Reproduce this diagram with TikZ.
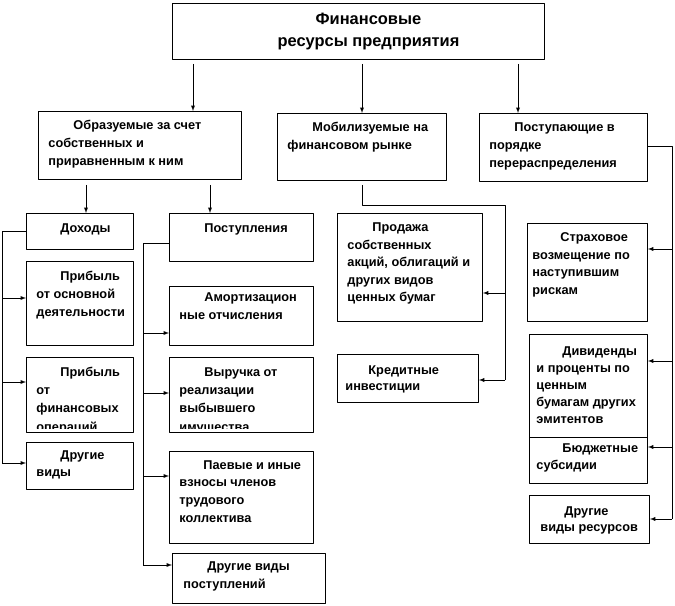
\documentclass[tikz,border=0pt]{standalone}
\usepackage{fontspec}
\setmainfont{Liberation Sans}
\newcommand{\boxtext}[4][10bp]{\parbox[c][#3][t]{#2}{\raggedright\leftskip=#1\relax\vspace*{6bp}#4}}
\tikzset{
  box/.style={draw,black,line width=0.9bp,inner sep=0pt,anchor=north west,font=\bfseries\fontsize{12.8}{18}\selectfont},
  link/.style={black,line width=0.9bp},
}
\begin{document}
\begin{tikzpicture}[>=latex,line join=bevel,]
%%
\fill [white] (0,0) rectangle (675bp,606bp);
\useasboundingbox (0,0) rectangle (675bp,606bp);
\node (node_0) at (172bp,603bp) [box,font=\bfseries\fontsize{16.5}{22}\selectfont] {\hspace*{20bp}\parbox[c][56bp][t]{352bp}{\centering\vspace*{5.6bp}\strut Финансовые\\ресурсы предприятия}};
%
\node (node_1) at (38bp,495bp) [box] {\boxtext{203bp}{68bp}{\strut\hspace*{25bp}Образуемые за счет\\собственных и\\приравненным к ним}};
  \node (node_2) at (277bp,493bp) [box] {\boxtext{169bp}{67bp}{\strut\hspace*{25bp}Мобилизуемые на\\финансовом рынке}};
  \node (node_3) at (479bp,493bp) [box] {\boxtext{168bp}{68bp}{\strut\hspace*{25bp}Поступающие в\\порядке\\перераспределения}};
%
\node (node_4) at (26bp,393bp) [box] {\boxtext{107bp}{36bp}{\vspace*{1bp}\strut\hspace*{24bp}Доходы}};
  \node (node_5) at (26bp,345bp) [box] {\boxtext{107bp}{84bp}{\vspace*{1bp}\strut\hspace*{24bp}Прибыль\\от основной\\деятельности}};
  \begin{scope}
  \clip (25bp,250bp) rectangle (134bp,177.5bp);
  \node (node_6) at (26bp,249bp) [box,draw=none] {\boxtext{107bp}{75bp}{\strut\hspace*{24bp}Прибыль\\[0.5bp]от\\[0.5bp]финансовых\\[0.5bp]операций}};
  \end{scope}
  \draw [link] (node_6.north west) rectangle (node_6.south east);
  \node (node_7) at (26bp,164bp) [box] {\boxtext{107bp}{47bp}{\vspace*{-2bp}\strut\hspace*{24bp}Другие\\виды}};
%
\node (node_8) at (169bp,393bp) [box] {\boxtext{144bp}{48bp}{\vspace*{1bp}\strut\hspace*{25bp}Поступления}};
  \node (node_9) at (169bp,320bp) [box] {\boxtext{144bp}{59bp}{\vspace*{-3bp}\strut\hspace*{25bp}Амортизацион\\ные отчисления}};
  \begin{scope}
  \clip (168bp,250bp) rectangle (314bp,177.5bp);
  \node (node_10) at (169bp,249bp) [box,draw=none] {\boxtext{144bp}{75bp}{\strut\hspace*{25bp}Выручка от\\[0.5bp]реализации\\[0.5bp]выбывшего\\[0.5bp]имущества}};
  \end{scope}
  \draw [link] (node_10.north west) rectangle (node_10.south east);
  \node (node_11) at (169bp,155bp) [box] {\boxtext{144bp}{92bp}{\vspace*{-1bp}\strut\hspace*{24bp}Паевые и иные\\взносы членов\\трудового\\коллектива}};
  \node (node_12) at (172bp,53bp) [box] {\boxtext[11bp]{153bp}{50bp}{\vspace*{-2bp}\strut\hspace*{24bp}Другие виды\\[1bp]поступлений}};
%
\node (node_13) at (337bp,393bp) [box] {\boxtext{145bp}{108bp}{\strut\hspace*{25bp}Продажа\\[-0.5bp]собственных\\[-0.5bp]акций, облигаций и\\[-0.5bp]других видов\\[-0.5bp]ценных бумаг}};
  \node (node_14) at (337bp,252bp) [box] {\boxtext[8bp]{141bp}{48bp}{\vspace*{1bp}\strut\hspace*{23bp}Кредитные\\[-1bp]инвестиции}};
%
\node (node_15) at (527bp,383bp) [box] {\boxtext[5bp]{120bp}{98bp}{\strut\hspace*{28bp}Страховое\\[-0.5bp]возмещение по\\[-0.5bp]наступившим\\[-0.5bp]рискам}};
  \node (node_16) at (529bp,272bp) [box] {\boxtext[7bp]{118bp}{103bp}{\vspace*{2bp}\strut\hspace*{26bp}Дивиденды\\[-0.7bp]и проценты по\\[-0.7bp]ценным\\[-0.7bp]бумагам других\\[-0.7bp]эмитентов}};
  \node (node_17) at (529bp,169bp) [box] {\boxtext[7bp]{118bp}{46bp}{\vspace*{-4bp}\strut\hspace*{26bp}Бюджетные\\субсидии}};
  \node (node_18) at (529bp,111bp) [box] {\boxtext[11bp]{120bp}{48bp}{\vspace*{1bp}\strut\hspace*{24bp}Другие\\[-1bp]виды ресурсов}};
%%
\coordinate (c_0) at (193bp,0bp);
\coordinate (c_1) at (362bp,0bp);
\coordinate (c_2) at (518bp,0bp);
\coordinate (c_3) at (86bp,0bp);
\coordinate (c_4) at (210bp,0bp);
\draw [link,->,shorten <=4bp] (node_0.south -| c_0) -- (node_1.north -| c_0);
\draw [link,->,shorten <=4bp] (node_0.south -| c_1) -- (node_2.north -| c_1);
\draw [link,->,shorten <=4bp] (node_0.south -| c_2) -- (node_3.north -| c_2);
\draw [link,->,shorten <=5bp] (node_1.south -| c_3) -- (node_4.north -| c_3);
\draw [link,->,shorten <=5bp] (node_1.south -| c_4) -- (node_8.north -| c_4);
%
\coordinate (b_0) at (2bp,375bp);
\coordinate (t_5) at (2bp,308bp);
\coordinate (t_6) at (2bp,224bp);
\coordinate (t_7) at (2bp,143bp);
\draw [link] (node_4.west |- b_0) -- (b_0) -- (t_7);
\foreach \i in {5,6,7} \draw [link,->] (t_\i) -- (t_\i -| node_\i.west);
%
\coordinate (b_1) at (143bp,363bp);
\coordinate (t_9) at (143bp,273bp);
\coordinate (t_10) at (143bp,213bp);
\coordinate (t_11) at (143bp,130bp);
\coordinate (t_12) at (143bp,41bp);
\draw [link] (node_8.west |- b_1) -- (b_1) -- (t_12);
\foreach \i in {9,...,12} \draw [link,->] (t_\i) -- (t_\i -| node_\i.west);
%
\coordinate (m_0) at (505bp,401bp);
\coordinate (t_13) at (505bp,313bp);
\coordinate (t_14) at (505bp,226bp);
\draw [link,shorten <=4bp] (node_2.south -| c_1) |- (m_0) -- (t_14);
\foreach \i in {13,14} \draw [link,->] (t_\i) -- (t_\i -| node_\i.east);
%
\coordinate (b_2) at (672bp,460bp);
\coordinate (t_15) at (672bp,357bp);
\coordinate (t_16) at (672bp,245bp);
\coordinate (t_17) at (672bp,159bp);
\coordinate (t_18) at (672bp,87bp);
\draw [link] (node_3.east |- b_2) -- (b_2) -- (t_18);
\foreach \i in {15,...,18} \draw [link,->] (t_\i) -- (t_\i -| node_\i.east);
%
\end{tikzpicture}
\end{document}
